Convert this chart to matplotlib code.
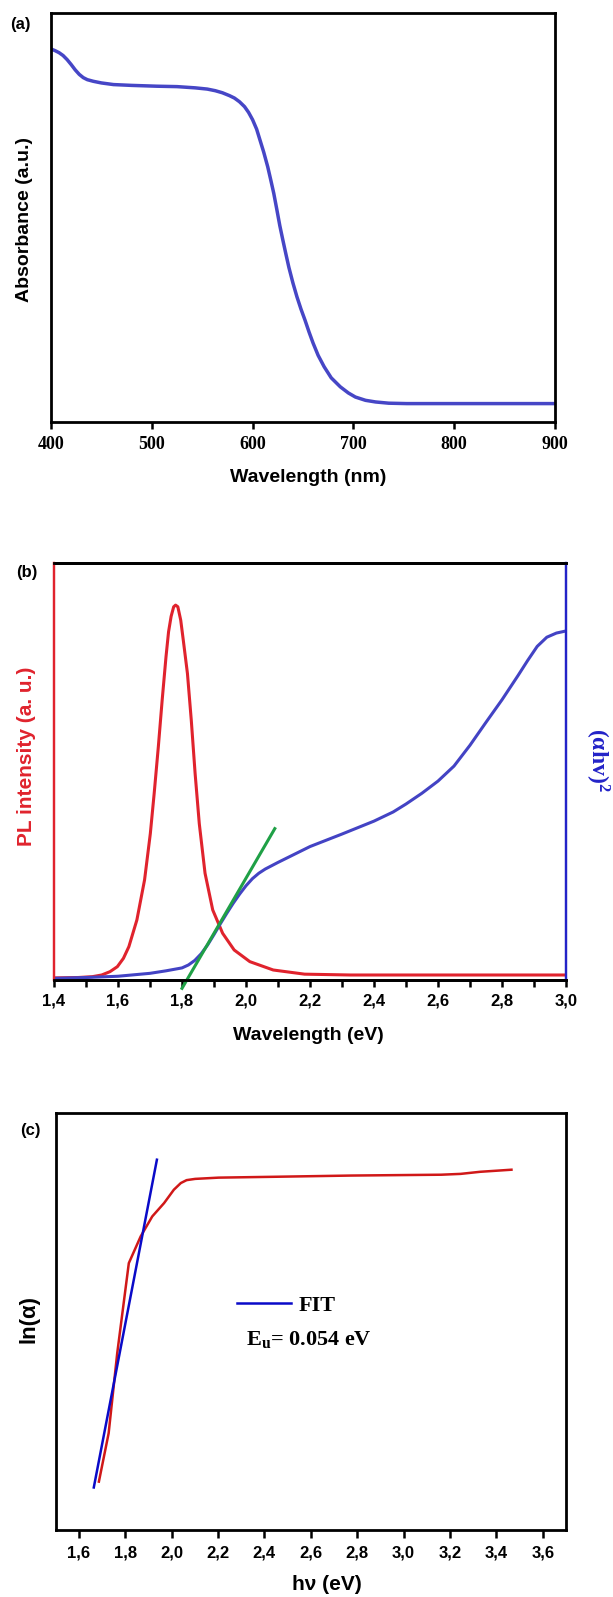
import matplotlib
matplotlib.use("Agg")
import matplotlib.pyplot as plt

plt.rcParams['mathtext.fontset'] = 'custom'
plt.rcParams['mathtext.rm'] = 'Liberation Serif:bold'
plt.rcParams['mathtext.bf'] = 'Liberation Serif:bold'
plt.rcParams['mathtext.it'] = 'Liberation Serif:bold'

# ---------------- data ----------------
# (a) absorbance (arbitrary units, 0..1 of axis)
wl_nm = [400, 404, 408, 412, 416, 420, 424, 428, 432, 436, 442, 450, 462, 480, 505, 525,
         543, 555, 563, 570, 577, 582, 587, 592, 596, 600, 604, 607, 611, 615, 618, 621,
         624, 627, 630, 633, 636, 640, 644, 648, 652, 656, 660, 665, 671, 678, 687, 695,
         702, 712, 722, 735, 753, 800, 900]
absorb = [0.912, 0.908, 0.903, 0.896, 0.886, 0.874, 0.861, 0.850, 0.842, 0.837, 0.833,
          0.829, 0.825, 0.823, 0.821, 0.820, 0.817, 0.814, 0.810, 0.805, 0.798, 0.792,
          0.783, 0.771, 0.757, 0.739, 0.716, 0.692, 0.660, 0.624, 0.592, 0.559, 0.520,
          0.480, 0.445, 0.411, 0.378, 0.340, 0.306, 0.276, 0.249, 0.220, 0.193, 0.163,
          0.135, 0.108, 0.086, 0.071, 0.061, 0.053, 0.049, 0.046, 0.045, 0.045, 0.045]
a_ticks = [400, 500, 600, 700, 800, 900]
a_ticklabels = ['400', '500', '600', '700', '800', '900']

# (b) PL intensity and (alpha h nu)^2 vs energy
pl_ev = [1.40, 1.476, 1.520, 1.549, 1.575, 1.598, 1.617, 1.634, 1.659, 1.683, 1.701,
         1.713, 1.726, 1.738, 1.750, 1.758, 1.766, 1.774, 1.780, 1.787, 1.796, 1.804,
         1.817, 1.829, 1.841, 1.854, 1.872, 1.896, 1.927, 1.963, 2.012, 2.085, 2.183,
         2.327, 2.60, 3.00]
pl_int = [0.005, 0.006, 0.008, 0.012, 0.020, 0.032, 0.052, 0.080, 0.144, 0.240, 0.351,
          0.447, 0.559, 0.671, 0.775, 0.835, 0.872, 0.895, 0.899, 0.895, 0.863, 0.815,
          0.735, 0.623, 0.495, 0.375, 0.256, 0.168, 0.112, 0.072, 0.044, 0.024, 0.014,
          0.012, 0.012, 0.012]
abs_ev = [1.40, 1.50, 1.60, 1.70, 1.75, 1.80, 1.82, 1.84, 1.86, 1.88, 1.90, 1.92, 1.94,
          1.96, 1.98, 2.00, 2.02, 2.04, 2.06, 2.08, 2.10, 2.15, 2.20, 2.30, 2.40, 2.46,
          2.50, 2.55, 2.60, 2.65, 2.70, 2.75, 2.80, 2.85, 2.88, 2.91, 2.94, 2.97, 3.00]
ahv2 = [0.004, 0.006, 0.009, 0.016, 0.022, 0.029, 0.036, 0.047, 0.063, 0.084, 0.109,
        0.135, 0.160, 0.184, 0.206, 0.226, 0.243, 0.256, 0.266, 0.274, 0.282, 0.301,
        0.320, 0.350, 0.381, 0.403, 0.422, 0.448, 0.477, 0.513, 0.563, 0.618, 0.672,
        0.730, 0.766, 0.800, 0.822, 0.832, 0.837]
tangent_ev = [1.80, 2.09]
tangent_y = [-0.02, 0.363]
b_ticks = [1.4, 1.6, 1.8, 2.0, 2.2, 2.4, 2.6, 2.8, 3.0]
b_ticklabels = ['1,4', '1,6', '1,8', '2,0', '2,2', '2,4', '2,6', '2,8', '3,0']
b_minor = [1.5, 1.7, 1.9, 2.1, 2.3, 2.5, 2.7, 2.9]

# (c) ln(alpha) vs h nu (Urbach)
urb_ev = [1.687, 1.729, 1.766, 1.816, 1.867, 1.917, 1.968, 2.010, 2.040, 2.065, 2.102,
          2.203, 2.438, 2.775, 3.162, 3.246, 3.330, 3.465]
ln_alpha = [0.116, 0.232, 0.424, 0.640, 0.704, 0.752, 0.784, 0.816, 0.832, 0.839, 0.842,
            0.845, 0.847, 0.850, 0.852, 0.854, 0.859, 0.864]
fit_ev = [1.665, 1.937]
fit_y = [0.102, 0.888]
c_ticks = [1.6, 1.8, 2.0, 2.2, 2.4, 2.6, 2.8, 3.0, 3.2, 3.4, 3.6]
c_ticklabels = ['1,6', '1,8', '2,0', '2,2', '2,4', '2,6', '2,8', '3,0', '3,2', '3,4', '3,6']

# ---------------- layout helpers ----------------
W, H = 613, 1597
fig = plt.figure(figsize=(W / 100, H / 100), dpi=100)


def rect(l, t, r, b):
    return [l / W, 1 - b / H, (r - l) / W, (b - t) / H]


def ftext(x, y, s, **kw):
    fig.text(x / W, 1 - y / H, s, **kw)


SANS = 'Liberation Sans'
SERIF = 'Liberation Serif'

# ---------------- panel (a) ----------------
axa = fig.add_axes(rect(51, 13, 555, 422))
axa.plot(wl_nm, absorb, color='#4646C6', lw=2.5, solid_capstyle='round',
         solid_joinstyle='round')
axa.set_xlim(400, 900)
axa.set_ylim(0, 1)
axa.set_yticks([])
axa.set_xticks(a_ticks)
axa.set_xticklabels(a_ticklabels, fontfamily=SERIF, fontweight='bold', fontsize=13)
axa.tick_params(axis='x', direction='out', length=5, width=1.8, pad=5)
for s in axa.spines.values():
    s.set_linewidth(2.0)
ftext(20, 24, '(a)', fontfamily=SANS, fontweight='bold', fontsize=12, ha='center', va='center')
ftext(25, 219, 'Absorbance (a.u.)', fontfamily=SANS, fontweight='bold', fontsize=14,
      rotation=90, ha='center', va='center')
ftext(308, 477, 'Wavelength (nm)', fontfamily=SANS, fontweight='bold', fontsize=14,
      ha='center', va='center')

# ---------------- panel (b) ----------------
axb = fig.add_axes(rect(54, 563, 566, 980))
axb2 = axb.twinx()
axb.plot(pl_ev, pl_int, color='#E0232D', lw=2.2, solid_joinstyle='round')
axb2.plot(abs_ev, ahv2, color='#4343C4', lw=2.2, solid_joinstyle='round')
axb2.plot(tangent_ev, tangent_y, color='#1FA046', lw=2.2, clip_on=False)
for ax in (axb, axb2):
    ax.set_xlim(1.4, 3.0)
    ax.set_ylim(0, 1)
    ax.set_yticks([])
axb.set_xticks(b_ticks)
axb.set_xticks(b_minor, minor=True)
axb.set_xticklabels(b_ticklabels, fontfamily=SANS, fontweight='bold', fontsize=12)
axb.tick_params(axis='x', which='major', direction='out', length=5, width=1.8, pad=5)
axb.tick_params(axis='x', which='minor', direction='out', length=5, width=1.8)
for ax in (axb, axb2):
    ax.spines['top'].set_linewidth(2.0)
    ax.spines['bottom'].set_linewidth(2.0)
    ax.spines['left'].set_color('#E0232D')
    ax.spines['left'].set_linewidth(1.6)
    ax.spines['right'].set_color('#2323C8')
    ax.spines['right'].set_linewidth(1.6)
ftext(27, 572, '(b)', fontfamily=SANS, fontweight='bold', fontsize=12, ha='center', va='center')
ftext(26, 756, 'PL intensity (a. u.)', fontfamily=SANS, fontweight='bold', fontsize=15,
      color='#E0232D', rotation=90, ha='center', va='center')
ftext(597, 760, r'$\mathbf{(\alpha hv)^2}$', fontsize=17, color='#2323C8',
      rotation=270, ha='center', va='center')
ftext(308, 1035, 'Wavelength (eV)', fontfamily=SANS, fontweight='bold', fontsize=14,
      ha='center', va='center')

# ---------------- panel (c) ----------------
axc = fig.add_axes(rect(55.5, 1113, 566, 1530))
axc.plot(urb_ev, ln_alpha, color='#D01818', lw=1.8, solid_joinstyle='round')
fit_line, = axc.plot(fit_ev, fit_y, color='#0A0AC8', lw=1.8)
axc.set_xlim(1.5, 3.7)
axc.set_ylim(0, 1)
axc.set_yticks([])
axc.set_xticks(c_ticks)
axc.set_xticklabels(c_ticklabels, fontfamily=SANS, fontweight='bold', fontsize=12)
axc.tick_params(axis='x', direction='out', length=6, width=1.8, pad=5)
for s in axc.spines.values():
    s.set_linewidth(2.0)
axc.legend(handles=[fit_line], labels=['FIT'], loc='center left',
           bbox_to_anchor=(0.356, 0.538), frameon=False, handlelength=2.4,
           handletextpad=0.35, borderpad=0, borderaxespad=0,
           prop={'family': SERIF, 'weight': 'bold', 'size': 16})
axc.text(0.373, 0.456, r'$\mathbf{E_u}$= 0.054 eV', transform=axc.transAxes,
         fontfamily=SERIF, fontweight='bold', fontsize=16, ha='left', va='center')
ftext(30, 1130, '(c)', fontfamily=SANS, fontweight='bold', fontsize=12, ha='center', va='center')
ftext(29, 1319, 'ln(α)', fontfamily=SANS, fontweight='bold', fontsize=16,
      rotation=90, ha='center', va='center')
ftext(327, 1585, 'hν (eV)', fontfamily=SANS, fontweight='bold', fontsize=15,
      ha='center', va='center')

fig.savefig('out.png', dpi=100)
